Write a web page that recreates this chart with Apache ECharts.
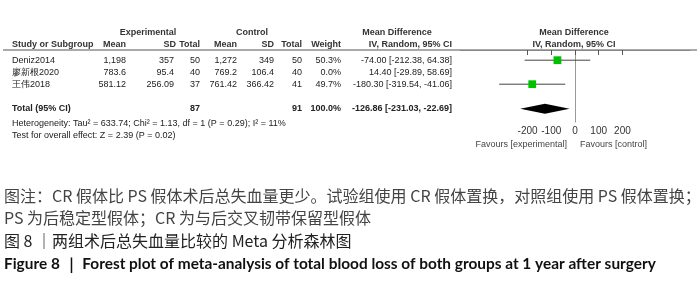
<!DOCTYPE html>
<html>
<head>
<meta charset="utf-8">
<script src="https://cdn.jsdelivr.net/npm/echarts@6/dist/echarts.min.js"></script>
<style>
  html, body { margin: 0; padding: 0; background: #fff; }
  #main { width: 700px; height: 285px; }
</style>
</head>
<body>
<div id="main"></div>
<script>
// study rows
var studies = ['Deniz2014', '廖新根2020', '王伟2018'];
var expMean = [1198, 783.6, 581.12];
var expSD = [357, 95.4, 256.09];
var expTotal = [50, 40, 37];
var ctlMean = [1272, 769.2, 761.42];
var ctlSD = [349, 106.4, 366.42];
var ctlTotal = [50, 40, 41];
var weight = [50.3, 0.0, 49.7];
var md = [-74.00, 14.40, -180.30];
var ciLow = [-212.38, -29.89, -319.54];
var ciHigh = [64.38, 58.69, -41.06];

// pooled result
var totalExp = 87;
var totalCtl = 91;
var totalWeight = 100.0;
var totalMD = -126.86;
var totalLow = -231.03;
var totalHigh = -22.69;

var xTicks = [-200, -100, 0, 100, 200];

var heteroText = 'Heterogeneity: Tau² = 633.74; Chi² = 1.13, df = 1 (P = 0.29); I² = 11%';
var effectText = 'Test for overall effect: Z = 2.39 (P = 0.02)';
var captionLines = [
  '图注：CR 假体比 PS 假体术后总失血量更少。试验组使用 CR 假体置换，对照组使用 PS 假体置换；',
  'PS 为后稳定型假体；CR 为与后交叉韧带保留型假体',
  '图 8 ｜两组术后总失血量比较的 Meta 分析森林图',
  'Figure 8 ｜ Forest plot of meta-analysis of total blood loss of both groups at 1 year after surgery'
];

// layout
var gridTop = 50, gridH = 72, yMax = 6;
var rowY = [0.85, 1.85, 2.85];
var totalY = 4.9;
function py(v) { return gridTop + v * gridH / yMax; }

var FONT = '"Liberation Sans", Arial, sans-serif';

function fmtNum(v) { return v.toLocaleString('en-US'); }
function fmtCI(m, lo, hi) { return m.toFixed(2) + ' [' + lo.toFixed(2) + ', ' + hi.toFixed(2) + ']'; }

function txt(str, x, y, align, bold, color, size) {
  return {
    type: 'text', x: x, y: y, silent: true,
    style: {
      text: str, align: align || 'left', verticalAlign: 'middle',
      fontFamily: FONT, fontSize: size || 9, fontWeight: bold ? 'bold' : 'normal',
      fill: color || '#222'
    }
  };
}

var g = [];
// header
g.push(txt('Experimental', 148, 33, 'center', true, '#333'));
g.push(txt('Control', 252, 33, 'center', true, '#333'));
g.push(txt('Mean Difference', 397, 33, 'center', true, '#333'));
g.push(txt('Mean Difference', 574, 33, 'center', true, '#333'));
g.push(txt('Study or Subgroup', 12, 45, 'left', true, '#333'));
g.push(txt('Mean', 126, 45, 'right', true, '#333'));
g.push(txt('SD', 176, 45, 'right', true, '#333'));
g.push(txt('Total', 200, 45, 'right', true, '#333'));
g.push(txt('Mean', 237, 45, 'right', true, '#333'));
g.push(txt('SD', 274, 45, 'right', true, '#333'));
g.push(txt('Total', 302, 45, 'right', true, '#333'));
g.push(txt('Weight', 341, 45, 'right', true, '#333'));
g.push(txt('IV, Random, 95% CI', 452, 45, 'right', true, '#333'));
g.push(txt('IV, Random, 95% CI', 574, 45, 'center', true, '#333'));
g.push({
  type: 'line', silent: true,
  shape: { x1: 3, y1: gridTop, x2: 697, y2: gridTop },
  style: { stroke: '#555', lineWidth: 1 }
});

// study rows
studies.forEach(function (s, i) {
  var y = py(rowY[i]);
  g.push(txt(s, 12, y, 'left'));
  g.push(txt(fmtNum(expMean[i]), 126, y, 'right'));
  g.push(txt(fmtNum(expSD[i]), 174, y, 'right'));
  g.push(txt(String(expTotal[i]), 200, y, 'right'));
  g.push(txt(fmtNum(ctlMean[i]), 237, y, 'right'));
  g.push(txt(fmtNum(ctlSD[i]), 274, y, 'right'));
  g.push(txt(String(ctlTotal[i]), 302, y, 'right'));
  g.push(txt(weight[i].toFixed(1) + '%', 341, y, 'right'));
  g.push(txt(fmtCI(md[i], ciLow[i], ciHigh[i]), 452, y, 'right'));
});

// total row
var ty = py(totalY);
g.push(txt('Total (95% CI)', 12, ty, 'left', true));
g.push(txt(String(totalExp), 200, ty, 'right', true));
g.push(txt(String(totalCtl), 302, ty, 'right', true));
g.push(txt(totalWeight.toFixed(1) + '%', 341, ty, 'right', true));
g.push(txt(fmtCI(totalMD, totalLow, totalHigh), 452, ty, 'right', true));
g.push(txt(heteroText, 12, 124, 'left'));
g.push(txt(effectText, 12, 136, 'left'));

// favours labels
g.push(txt('Favours [experimental]', 567, 145, 'right', false, '#444'));
g.push(txt('Favours [control]', 580, 145, 'left', false, '#444'));

// caption
var capFont = '"Noto Sans CJK SC", sans-serif';
g.push({ type: 'text', x: 4, y: 196, silent: true,
  style: { text: captionLines[0], verticalAlign: 'middle', fontFamily: capFont, fontSize: 16, fill: '#444' } });
g.push({ type: 'text', x: 4, y: 218, silent: true,
  style: { text: captionLines[1], verticalAlign: 'middle', fontFamily: capFont, fontSize: 16, fill: '#444' } });
g.push({ type: 'text', x: 4, y: 241, silent: true,
  style: { text: captionLines[2], verticalAlign: 'middle', fontFamily: capFont, fontSize: 16, fill: '#222' } });
g.push({ type: 'text', x: 4, y: 264, silent: true,
  style: { text: captionLines[3], verticalAlign: 'middle', fontFamily: 'Lato, "Open Sans", sans-serif', fontSize: 15.4, fontWeight: 'bold', fill: '#111' } });

// forest marks
var studyData = [];
studies.forEach(function (s, i) {
  if (weight[i] > 0) studyData.push([md[i], rowY[i], ciLow[i], ciHigh[i], weight[i]]);
});

function renderStudy(params, api) {
  var yv = api.value(1);
  var c = api.coord([api.value(0), yv]);
  var a = api.coord([api.value(2), yv]);
  var b = api.coord([api.value(3), yv]);
  var s = Math.sqrt(api.value(4)) * 1.1;
  return {
    type: 'group',
    children: [
      { type: 'line', shape: { x1: a[0], y1: a[1], x2: b[0], y2: b[1] }, style: { stroke: '#444', lineWidth: 1 } },
      { type: 'rect', shape: { x: c[0] - s / 2, y: c[1] - s / 2, width: s, height: s }, style: { fill: '#00c000' } }
    ]
  };
}

function renderDiamond(params, api) {
  var yv = api.value(1);
  var c = api.coord([api.value(0), yv]);
  var a = api.coord([api.value(2), yv]);
  var b = api.coord([api.value(3), yv]);
  var h = 5;
  return {
    type: 'polygon',
    shape: { points: [[a[0], c[1]], [c[0], c[1] - h], [b[0], c[1]], [c[0], c[1] + h]] },
    style: { fill: '#000' }
  };
}

var chart = echarts.init(document.getElementById('main'), null, { renderer: 'canvas' });
var option = {
  backgroundColor: '#fff',
  animation: false,
  grid: { left: 460, width: 230, top: gridTop, height: gridH },
  xAxis: {
    type: 'value', min: -485, max: 485,
    axisLine: { lineStyle: { color: '#888', width: 1 } },
    axisTick: { customValues: xTicks, length: 5, lineStyle: { color: '#555' } },
    axisLabel: { customValues: xTicks, fontSize: 10, color: '#333', fontFamily: FONT, margin: 4 },
    splitLine: { show: false }
  },
  yAxis: {
    type: 'value', min: 0, max: yMax, inverse: true,
    axisLine: { show: true, onZero: true, lineStyle: { color: '#999', width: 1 } },
    axisTick: { show: false },
    axisLabel: { show: false },
    splitLine: { show: false }
  },
  series: [
    { type: 'custom', renderItem: renderStudy, data: studyData, encode: { x: 0, y: 1 } },
    { type: 'custom', renderItem: renderDiamond, data: [[totalMD, totalY, totalLow, totalHigh]], encode: { x: 0, y: 1 } }
  ],
  graphic: g
};
chart.setOption(option);
</script>
</body>
</html>
